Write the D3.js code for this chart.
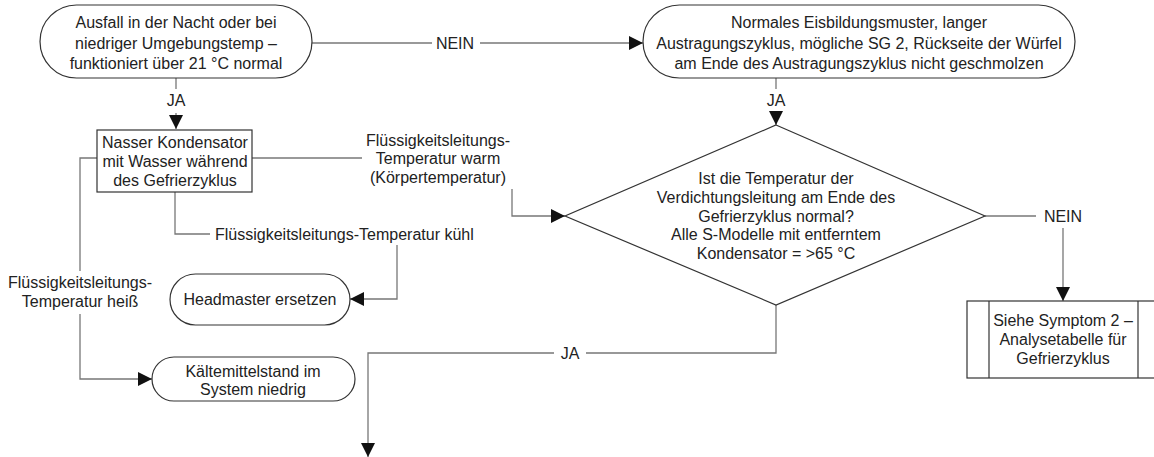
<!DOCTYPE html>
<html>
<head>
<meta charset="utf-8">
<script src="https://cdn.jsdelivr.net/npm/d3@7"></script>
<style>
  body { margin: 0; background: #fff; }
  svg text { font-family: "Liberation Sans", Arial, sans-serif; font-size: 16px; fill: #222; }
</style>
</head>
<body>
<svg id="chart" width="1154" height="457"></svg>
<script>
// node texts
const startText = ['Ausfall in der Nacht oder bei', 'niedriger Umgebungstemp –', 'funktioniert über 21 °C normal'];
const normalText = ['Normales Eisbildungsmuster, langer', 'Austragungszyklus, mögliche SG 2, Rückseite der Würfel', 'am Ende des Austragungszyklus nicht geschmolzen'];
const condText = ['Nasser Kondensator', 'mit Wasser während', 'des Gefrierzyklus'];
const questionText = ['Ist die Temperatur der', 'Verdichtungsleitung am Ende des', 'Gefrierzyklus normal?', 'Alle S-Modelle mit entferntem', 'Kondensator = >65 °C'];
const headmasterText = ['Headmaster ersetzen'];
const refrigText = ['Kältemittelstand im', 'System niedrig'];
const symptomText = ['Siehe Symptom 2 –', 'Analysetabelle für', 'Gefrierzyklus'];

// edge labels
const warmLabel = ['Flüssigkeitsleitungs-', 'Temperatur warm', '(Körpertemperatur)'];
const coolLabel = ['Flüssigkeitsleitungs-Temperatur kühl'];
const hotLabel = ['Flüssigkeitsleitungs-', 'Temperatur heiß'];
const yesNo = ['JA', 'NEIN'];

const svg = d3.select('#chart');
const shapeStroke = '#333';
const lineStroke = '#777';

svg.append('defs').append('marker')
  .attr('id', 'arrow')
  .attr('markerUnits', 'userSpaceOnUse')
  .attr('viewBox', '0 0 14 14')
  .attr('refX', 14)
  .attr('refY', 7)
  .attr('markerWidth', 14)
  .attr('markerHeight', 14)
  .attr('orient', 'auto')
  .append('path')
  .attr('d', 'M0,0L14,7L0,14Z')
  .attr('fill', '#111');

const line = d3.line();

const connector = (pts, arrow) => {
  svg.append('path')
    .attr('d', line(pts))
    .attr('fill', 'none')
    .attr('stroke', lineStroke)
    .attr('stroke-width', 1.3)
    .attr('marker-end', arrow ? 'url(#arrow)' : null);
};

const textBlock = (lines, cx, ys, anchor = 'middle') => {
  svg.append('g')
    .selectAll('text')
    .data(lines)
    .enter()
    .append('text')
    .attr('x', cx)
    .attr('y', (d, i) => ys[i])
    .attr('dy', '0.35em')
    .attr('text-anchor', anchor)
    .text((d) => d);
};

const terminal = (x, y, w, h) => {
  svg.append('rect')
    .attr('x', x).attr('y', y)
    .attr('width', w).attr('height', h)
    .attr('rx', h / 2).attr('ry', h / 2)
    .attr('fill', '#fff')
    .attr('stroke', shapeStroke)
    .attr('stroke-width', 1.2);
};

// connectors
connector([[312, 43], [432, 43]]);
connector([[480, 43], [643, 43]], true);
textBlock([yesNo[1]], 455, [43]);

connector([[176, 78], [176, 89]]);
textBlock([yesNo[0]], 176, [100]);
connector([[176, 113], [176, 129]], true);

connector([[776, 78], [776, 89]]);
textBlock([yesNo[0]], 776, [100]);
connector([[776, 111], [776, 125]], true);

connector([[252, 158], [362, 158]]);
textBlock(warmLabel, 438, [140, 158, 177]);
connector([[512, 189], [512, 216], [565, 216]], true);

connector([[175, 192], [175, 234], [210, 234]]);
textBlock(coolLabel, 215, [234], 'start');
connector([[397, 245], [397, 299], [350, 299]], true);

connector([[97, 158], [80, 158], [80, 271]]);
textBlock(hotLabel, 80, [282, 301]);
connector([[80, 314], [80, 379], [152, 379]], true);

connector([[985, 216], [1036, 216]]);
textBlock([yesNo[1]], 1063, [216]);
connector([[1063, 228], [1063, 301]], true);

connector([[776, 305], [776, 353], [586, 353]]);
textBlock([yesNo[0]], 570, [353]);
connector([[554, 353], [368, 353], [368, 457]], true);

// shapes
terminal(40, 5, 272, 73);
textBlock(startText, 176, [22, 43, 63]);

terminal(643, 5, 432, 73);
textBlock(normalText, 859, [22, 43, 63]);

svg.append('rect')
  .attr('x', 97).attr('y', 130)
  .attr('width', 155).attr('height', 62)
  .attr('fill', '#fff')
  .attr('stroke', shapeStroke)
  .attr('stroke-width', 1.2);
textBlock(condText, 175, [142, 161, 180]);

svg.append('path')
  .attr('d', line([[776, 125], [985, 216], [776, 305], [565, 216]]) + 'Z')
  .attr('fill', '#fff')
  .attr('stroke', shapeStroke)
  .attr('stroke-width', 1.2);
textBlock(questionText, 776, [178, 197, 216, 234, 253]);

terminal(170, 274, 180, 51);
textBlock(headmasterText, 260, [299]);

terminal(152, 357, 203, 44);
textBlock(refrigText, 253, [371, 389]);

const sym = svg.append('g');
sym.append('rect')
  .attr('x', 967).attr('y', 301)
  .attr('width', 193).attr('height', 77)
  .attr('fill', '#fff')
  .attr('stroke', shapeStroke)
  .attr('stroke-width', 1.2);
sym.selectAll('line')
  .data([989, 1138])
  .enter()
  .append('line')
  .attr('x1', (d) => d).attr('x2', (d) => d)
  .attr('y1', 301).attr('y2', 378)
  .attr('stroke', shapeStroke)
  .attr('stroke-width', 1.2);
textBlock(symptomText, 1063, [320, 339, 358]);
</script>
</body>
</html>
